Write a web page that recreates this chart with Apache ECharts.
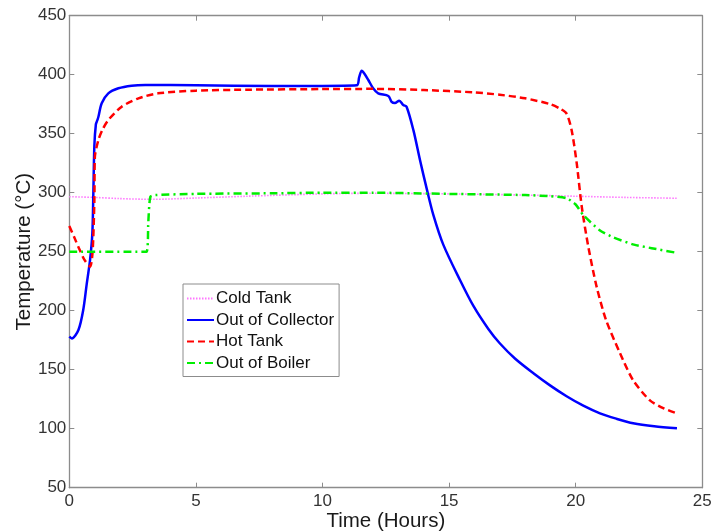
<!DOCTYPE html>
<html><head><meta charset="utf-8">
<script src="https://cdn.jsdelivr.net/npm/echarts@6/dist/echarts.min.js"></script>
<style>html,body{margin:0;padding:0;background:#fff}#c{width:712px;height:532px}</style>
</head><body><div id="c"></div>
<script>
const xTicks = [0, 5, 10, 15, 20, 25];
const yTicks = [50, 100, 150, 200, 250, 300, 350, 400, 450];

const seriesNames = ['Cold Tank', 'Out of Collector', 'Hot Tank', 'Out of Boiler'];

const coldT = [0, 1, 2, 3.3, 5, 7, 10, 12, 15, 18, 20, 22, 24];
const coldV = [296.6, 296, 295, 294.4, 295.5, 297, 299, 299.5, 299, 298, 297, 296, 295.3];

const collT = [0, 0.1, 0.36, 0.55, 0.69, 0.82, 0.91, 0.95, 0.99, 1.05, 1.1, 1.15, 1.28, 1.54, 1.94, 2.46, 3, 5, 8, 10, 11.35, 11.45, 11.55, 11.65, 11.81, 12.0, 12.2, 12.6, 12.73, 12.86, 13.03, 13.19, 13.32, 13.59, 13.85, 14.12, 14.38, 14.77, 15.43, 15.96, 16.55, 17.0, 17.6, 18.33, 19.0, 19.64, 20.3, 20.96, 21.6, 22.27, 23.1, 24];
const collV = [178, 176.5, 183.6, 200.6, 223, 243, 265.6, 300, 340, 358, 361, 364.4, 375.8, 384.2, 388.5, 390.7, 391.3, 391, 390.5, 390.5, 391, 398, 403.4, 401, 395.5, 388.5, 384.2, 382, 377, 376, 378, 374.3, 372.9, 353, 327.7, 303, 281, 256, 226, 204, 184.5, 172.4, 159.5, 147, 136.5, 127.5, 119.5, 113, 108.5, 104.6, 102, 100.3];

const hotT = [0, 0.2, 0.4, 0.6, 0.82, 0.92, 0.99, 1.01, 1.15, 1.3, 1.54, 2.07, 2.73, 3.5, 5, 7, 10, 12, 14, 16, 17, 18, 19, 19.4, 19.64, 19.84, 20.04, 20.24, 20.5, 20.83, 21.2, 21.75, 22.27, 22.93, 23.5, 24];
const hotV = [271.8, 262, 252, 243, 237.3, 250, 293.6, 330.5, 344.7, 353, 361.6, 372.9, 380, 384.2, 386.5, 387.3, 387.8, 388, 387, 385, 383, 380, 375, 371, 367, 353, 325, 288, 254, 220, 192, 164, 141, 124, 117, 113];

const boilT = [0, 3.05, 3.12, 3.2, 3.4, 5, 8, 10, 12, 15, 18, 19, 19.64, 20.0, 20.3, 20.96, 21.5, 22.3, 23, 24];
const boilV = [250, 250, 275, 296.5, 298, 299, 299.5, 300, 300, 299, 298, 297, 295.3, 290, 281, 268, 262, 256, 253, 249];

const pairs = (t, v) => t.map((x, i) => [x, v[i]]);

const FONT = 'Liberation Sans';
const axisCol = '#8c8c8c';
const textCol = '#333333';

function mkX(pos, showLabel, name) {
  return {
    type: 'value', position: pos, min: 0, max: 25, interval: 5,
    name: name || '', nameLocation: 'middle', nameGap: 23, nameMoveOverlap: false,
    nameTextStyle: { fontFamily: FONT, fontSize: 20.5, color: '#1a1a1a' },
    axisLine: { show: true, onZero: false, lineStyle: { color: axisCol, width: 1.3 } },
    axisTick: { show: true, inside: true, length: 5, lineStyle: { color: axisCol } },
    axisLabel: { show: showLabel, margin: 5, fontFamily: FONT, fontSize: 17, color: textCol },
    splitLine: { show: false }
  };
}
function mkY(pos, showLabel, name) {
  return {
    type: 'value', position: pos, min: 50, max: 450, interval: 50,
    name: name || '', nameLocation: 'middle', nameGap: 34, nameMoveOverlap: false,
    nameTextStyle: { fontFamily: FONT, fontSize: 20.5, color: '#1a1a1a' },
    axisLine: { show: true, onZero: false, lineStyle: { color: axisCol, width: 1.3 } },
    axisTick: { show: true, inside: true, length: 5, lineStyle: { color: axisCol } },
    axisLabel: { show: showLabel, margin: 3, fontFamily: FONT, fontSize: 17, color: textCol },
    splitLine: { show: false }
  };
}

const chart = echarts.init(document.getElementById('c'), null, { renderer: 'canvas' });
chart.setOption({
  animation: false,
  backgroundColor: '#ffffff',
  grid: { left: 69.3, right: 9.7, top: 15.7, bottom: 44.3, containLabel: false, outerBoundsMode: 'none' },
  xAxis: [mkX('bottom', true, 'Time (Hours)'), mkX('top', false)],
  yAxis: [mkY('left', true, 'Temperature (°C)'), mkY('right', false)],
  legend: {
    orient: 'vertical', left: 183, top: 284,
    data: seriesNames,
    itemWidth: 27, itemHeight: 14, itemGap: 4.5,
    padding: [6, 5, 5, 3],
    borderColor: '#8c8c8c', borderWidth: 1,
    backgroundColor: '#ffffff',
    itemStyle: { opacity: 0 },
    textStyle: { fontFamily: FONT, fontSize: 17, color: '#111', padding: [0, 0, 0, -3] }
  },
  series: [
    { name: seriesNames[0], type: 'line', data: pairs(coldT, coldV), symbol: 'none', smooth: 0.3,
      lineStyle: { color: '#ff77ff', width: 1.6, type: [1.5, 1.5] }, itemStyle: { color: '#ff77ff' } },
    { name: seriesNames[1], type: 'line', data: pairs(collT, collV), symbol: 'none', smooth: 0.3,
      lineStyle: { color: '#0000ff', width: 2.5 }, itemStyle: { color: '#0000ff' } },
    { name: seriesNames[2], type: 'line', data: pairs(hotT, hotV), symbol: 'none', smooth: 0.25,
      lineStyle: { color: '#ff0000', width: 2.5, type: [7, 4] }, itemStyle: { color: '#ff0000' } },
    { name: seriesNames[3], type: 'line', data: pairs(boilT, boilV), symbol: 'none', smooth: 0.2,
      lineStyle: { color: '#00ee00', width: 2.5, type: [8, 4, 2, 4] }, itemStyle: { color: '#00ee00' } }
  ]
});
</script>
</body></html>
